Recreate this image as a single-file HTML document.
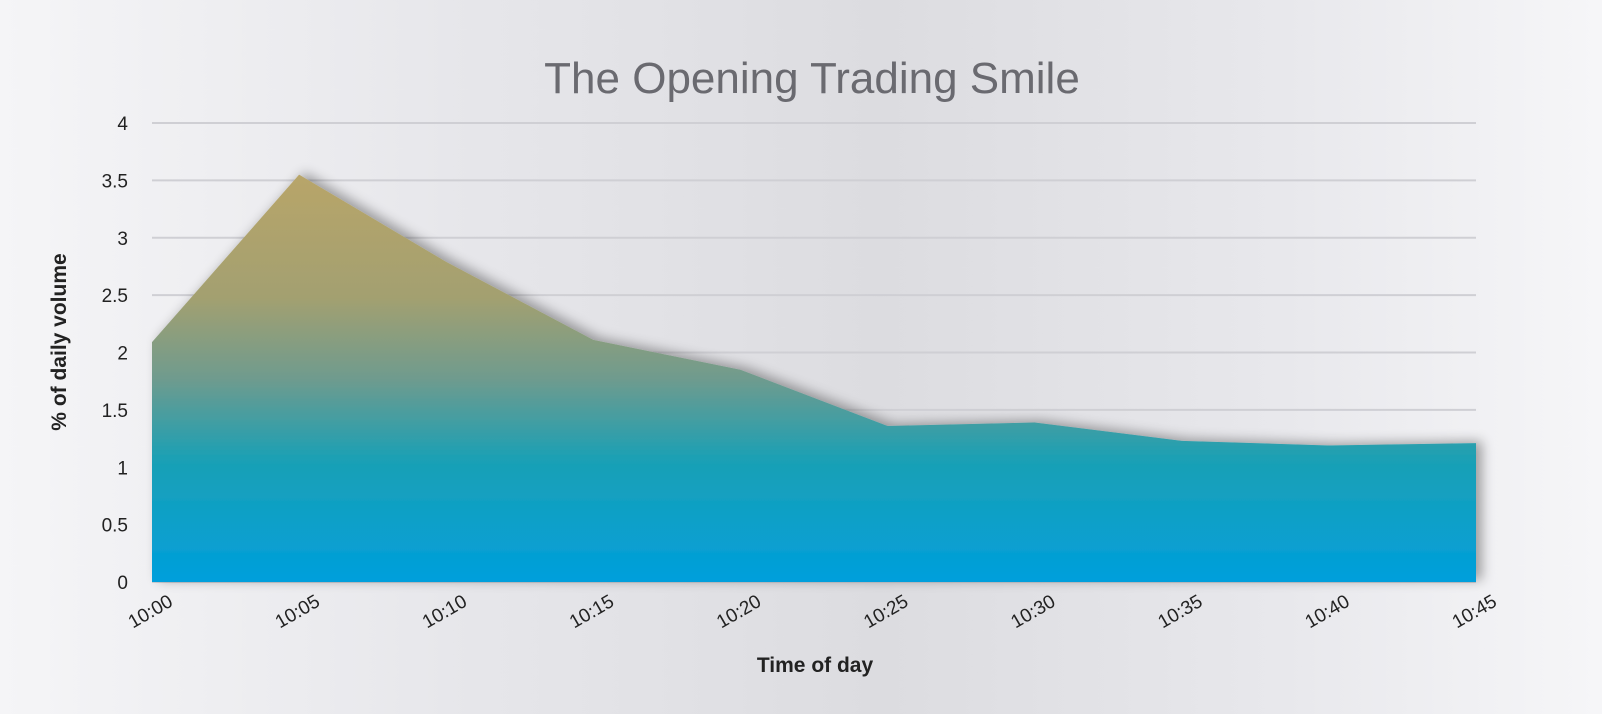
<!DOCTYPE html>
<html><head><meta charset="utf-8"><style>
html,body{margin:0;padding:0;width:1602px;height:714px;overflow:hidden;}
body{background:linear-gradient(90deg,#f5f5f7 0%,#e6e6ea 30%,#dcdce0 55%,#e8e8ec 80%,#f6f6f8 100%);font-family:"Liberation Sans",Arial,sans-serif;}
</style></head><body>
<svg id="chart" width="1602" height="714" xmlns="http://www.w3.org/2000/svg">
<defs>
<linearGradient id="fillGrad" gradientUnits="userSpaceOnUse" x1="0" y1="175" x2="0" y2="582">
<stop offset="0" stop-color="#b8a56a"/>
<stop offset="0.3" stop-color="#a3a070"/>
<stop offset="0.5" stop-color="#6f9b8e"/>
<stop offset="0.7" stop-color="#1aa0b5"/>
<stop offset="1" stop-color="#009fdc"/>
</linearGradient>
<filter id="shadow" x="-5%" y="-10%" width="110%" height="120%"><feGaussianBlur in="SourceAlpha" stdDeviation="6"/><feOffset dx="6" dy="-2"/><feComponentTransfer><feFuncA type="linear" slope="0.35"/></feComponentTransfer><feMerge><feMergeNode/><feMergeNode in="SourceGraphic"/></feMerge></filter>
</defs>
<text x="812" y="93" text-anchor="middle" font-size="44" fill="#6a6a70">The Opening Trading Smile</text>
<g id="grid"></g>
<g id="area"></g>
<g id="xt"></g>
<text x="815" y="672" text-anchor="middle" font-size="21" font-weight="bold" fill="#222">Time of day</text>
<text transform="translate(66,342) rotate(-90)" text-anchor="middle" font-size="21" font-weight="bold" fill="#222">% of daily volume</text>
</svg>
<script>
const categories=["10:00","10:05","10:10","10:15","10:20","10:25","10:30","10:35","10:40","10:45"];
const values=[2.09,3.55,2.79,2.11,1.85,1.36,1.39,1.23,1.19,1.21];
const yTicks=[0,0.5,1,1.5,2,2.5,3,3.5,4];
const yTickLabels=["0","0.5","1","1.5","2","2.5","3","3.5","4"];
const NS="http://www.w3.org/2000/svg";
const x0=152,x1=1476,yb=582,yt=123,yMax=4;
const xs=i=>x0+(x1-x0)*i/(categories.length-1);
const ys=v=>yb-(yb-yt)*v/yMax;
function mk(t,a){const e=document.createElementNS(NS,t);for(const k in a)e.setAttribute(k,a[k]);return e;}
const grid=document.getElementById('grid');
yTicks.forEach((v,i)=>{
 const l=mk('line',{x1:x0,x2:x1,y1:ys(v),y2:ys(v),stroke:'#cfcfd4','stroke-width':2});
 
 
 grid.appendChild(l);
 const t=mk('text',{x:128,y:ys(v)+7,'text-anchor':'end','font-size':19,fill:'#222'});
 
 
 t.textContent=yTickLabels[i];grid.appendChild(t);
});
let d='M'+xs(0)+','+yb;
values.forEach((v,i)=>{d+=' L'+xs(i)+','+ys(v);});
d+=' L'+xs(values.length-1)+','+yb+' Z';
const p=mk('path',{d:d,fill:'url(#fillGrad)',filter:'url(#shadow)'});


document.getElementById('area').appendChild(p);
const xt=document.getElementById('xt');
categories.forEach((c,i)=>{
 const t=mk('text',{transform:'translate('+(xs(i)+22)+',605) rotate(-30)','text-anchor':'end','font-size':19,fill:'#222'});
 
 
 t.textContent=c;xt.appendChild(t);
});
</script>
</body></html>
